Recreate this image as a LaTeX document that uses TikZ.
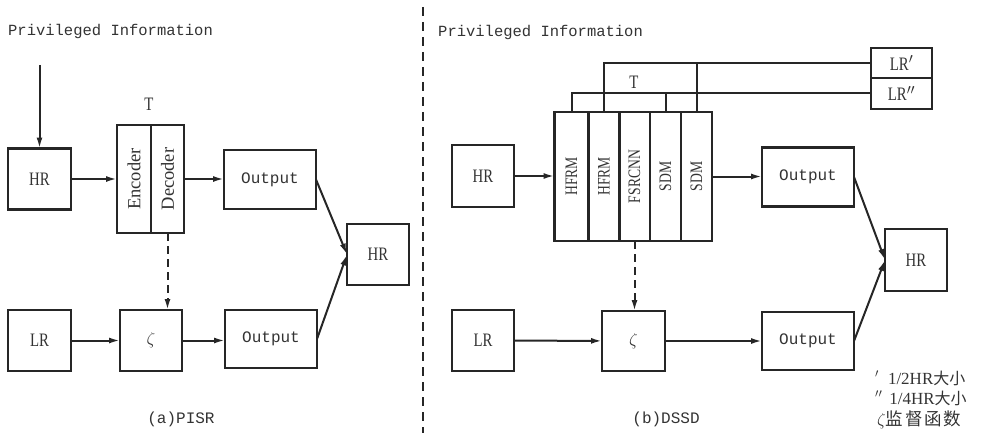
\documentclass[tikz,border=0pt]{standalone}
\usepackage{fontspec}
\setmainfont{Liberation Serif}
\newfontfamily\capsfont[FakeStretch=0.78]{Liberation Serif}
\newfontfamily\monofont{Liberation Mono}
\newfontfamily\cjkfont{Noto Sans CJK SC}
\usetikzlibrary{arrows.meta}
\definecolor{ink}{HTML}{262626}
\definecolor{txt}{HTML}{333333}
\newcommand{\vtext}[1]{\rotatebox{90}{#1}}

\begin{document}
\begin{tikzpicture}[x=1pt,y=-1pt,
  box/.style={draw=ink, line width=2.2pt, inner sep=0pt, outer sep=0pt,
    text=txt, font=\capsfont\fontsize{19}{19}\selectfont},
  outbox/.style={box, minimum width=92pt, minimum height=58pt,
    font=\monofont\fontsize{16}{16}\selectfont},
  sqbox/.style={box, minimum width=62pt, minimum height=61pt},
  encbox/.style={box, minimum height=108pt,
    font=\fontsize{18.5}{18.5}\selectfont},
  colbox/.style={box, minimum height=129pt,
    font=\capsfont\fontsize{17.5}{17.5}\selectfont},
  lrbox/.style={box, minimum width=61pt, minimum height=30.5pt},
  tag/.style={text=txt, inner sep=0pt},
  monotag/.style={tag, font=\monofont\fontsize{15.5}{16}\selectfont},
  legend/.style={tag, anchor=west, font=\fontsize{17}{17}\selectfont},
  flow/.style={draw=ink, line width=2pt, -{Latex[length=11pt,width=6pt]}},
  dashflow/.style={flow, dash pattern=on 8pt off 5pt},
  link/.style={draw=ink, line width=2pt},
]
\useasboundingbox (0,0) rectangle (981,433);

% ---------- (a) PISR ----------
\node[monotag, anchor=west] (piA) at (8,31) {Privileged Information};
\coordinate (piAend) at (39.5,65);
\node[sqbox, minimum width=63pt] (hrA) at (39.5,179) {HR};
\node[encbox, minimum width=34pt] (enc) at (134,179) {\vtext{Encoder}};
\node[encbox, minimum width=33pt] (dec) at (167.5,179) {\vtext{Decoder}};
\node[tag, font=\capsfont\fontsize{19}{19}\selectfont] (tA) at (149,104) {T};
\node[outbox, minimum height=59pt] (outA1) at (270,179.5) {Output};
\node[sqbox] (hrA2) at (378,254.5) {HR};
\node[sqbox, minimum width=63pt] (lrA) at (39.5,340.5) {LR};
\node[sqbox] (zA) at (151,340.5) {\fontsize{18}{18}\selectfont$\zeta$};
\node[outbox] (outA2) at (271,339) {Output};
\node[monotag, font=\monofont\fontsize{16}{16}\selectfont] (capA) at (181,419) {(a)PISR};

\draw[flow] (piAend) -- (hrA.north);
\draw[flow] (hrA) -- (enc);
\draw[flow] (dec.east) -- (dec.east -| outA1.west);
\draw[flow] (outA1.east) -- (hrA2.west);
\draw[flow] (outA2.east) -- (hrA2.west);
\draw[dashflow] (dec.south) -- (dec.south |- zA.north);
\draw[flow] (lrA) -- (zA);
\draw[flow] (zA.east) -- (zA.east -| outA2.west);

% ---------- separator ----------
\coordinate (sepTop) at (423,7);
\coordinate (sepBot) at (423,433);
\draw[draw=ink, line width=2.2pt, dash pattern=on 9pt off 6pt] (sepTop) -- (sepBot);

% ---------- (b) DSSD ----------
\node[monotag, anchor=west] (piB) at (438,32) {Privileged Information};
\node[sqbox, minimum height=62pt] (hrB) at (483,176) {HR};
\node[colbox, minimum width=34pt] (c1) at (571.5,176.5) {\vtext{HFRM}};
\node[colbox, minimum width=31pt] (c2) at (604,176.5) {\vtext{HFRM}};
\node[colbox, minimum width=31pt] (c3) at (634.5,176.5) {\vtext{FSRCNN}};
\node[colbox, minimum width=31pt] (c4) at (665.5,176.5) {\vtext{SDM}};
\node[colbox, minimum width=31pt] (c5) at (696.5,176.5) {\vtext{SDM}};
\node[tag, font=\capsfont\fontsize{19}{19}\selectfont] (tB) at (634,82) {T};
\node[lrbox] (lrp) at (901.5,63) {LR$'$};
\node[lrbox] (lrpp) at (901.5,93.5) {LR$''$};
\node[outbox, minimum height=59pt] (outB1) at (808,177) {Output};
\node[sqbox, minimum height=62pt] (hrB2) at (916,260) {HR};
\node[sqbox] (lrB) at (483,340.5) {LR};
\node[sqbox, minimum width=63pt, minimum height=60pt] (zB) at (633.5,341) {\fontsize{18}{18}\selectfont$\zeta$};
\node[outbox] (outB2) at (808,341) {Output};
\node[monotag, font=\monofont\fontsize{16}{16}\selectfont] (capB) at (666,419) {(b)DSSD};

% scaled low-resolution inputs feeding the stacked modules
\draw[link] (c2.north) |- (lrp.west);
\draw[link] (c5.north) -- (c5.north |- lrp.west);
\draw[link] (c1.north) |- (lrpp.west);
\draw[link] (c4.north) -- (c4.north |- lrpp.west);

\draw[flow] (hrB.east) -- (hrB.east -| c1.west);
\draw[flow] (c5.east) -- (c5.east -| outB1.west);
\draw[flow] (outB1.east) -- (hrB2.west);
\draw[flow] (outB2.east) -- (hrB2.west);
\draw[dashflow] (c3.south) -- (c3.south |- zB.north);
\draw[flow] (lrB) -- (zB);
\draw[flow] (zB.east) -- (zB.east -| outB2.west);

% ---------- legend ----------
\node[legend] (lg1) at (875,378)
  {$'$\hspace{9pt}1/2HR{\cjkfont\fontsize{16}{16}\selectfont 大小}};
\node[legend] (lg2) at (875,398)
  {$''$\hspace{7pt}1/4HR{\cjkfont\fontsize{16}{16}\selectfont 大小}};
\node[legend, font=\fontsize{18}{18}\selectfont] (lg3) at (877,420)
  {$\zeta${\cjkfont\fontsize{17.5}{17.5}\selectfont\addfontfeatures{LetterSpace=10}监督函数}};
\end{tikzpicture}
\end{document}
